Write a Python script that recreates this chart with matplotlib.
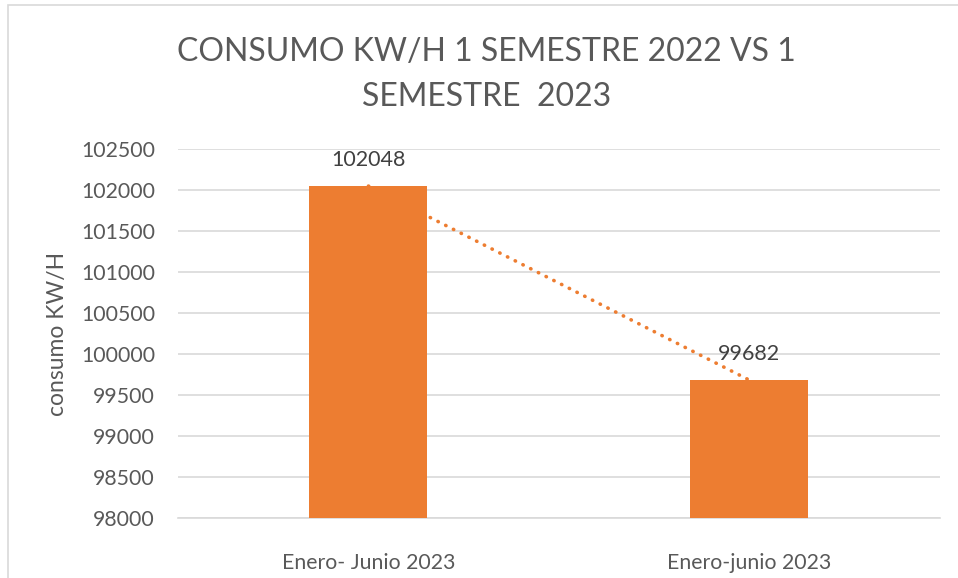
import matplotlib.pyplot as plt
from matplotlib.patches import Rectangle

# --- Data ---
categories = ["Enero- Junio 2023", "Enero-junio 2023"]
consumo = [102048, 99682]
y_ticks = list(range(98000, 102501, 500))

TITLE = "CONSUMO KW/H 1 SEMESTRE 2022 VS 1\nSEMESTRE  2023"
ORANGE = "#ED7D31"
GRAY_TXT = "#595959"
GRID = "#D9D9D9"

plt.rcParams['font.family'] = ['Lato', 'DejaVu Sans']


def main():
    fig = plt.figure(figsize=(9.58, 5.78), dpi=100)
    ax = fig.add_axes([0.1858, 0.1038, 0.981 - 0.1858, 0.7422 - 0.1038])

    x = list(range(len(categories)))

    # linear trend line (drawn behind bars)
    ax.plot(x, consumo, linestyle=(0, (0.1, 2.3)), color=ORANGE, linewidth=2.6,
            dash_capstyle='round', zorder=2)

    ax.bar(x, consumo, width=0.31, color=ORANGE, zorder=3)

    for xi, v in zip(x, consumo):
        ax.annotate(str(v), (xi, v), xytext=(0, 19), textcoords='offset points',
                    ha='center', va='center', fontsize=15.5, color="#404040", zorder=4)

    ax.set_xlim(-0.5, len(categories) - 0.5)
    ax.set_ylim(98000, 102500)
    ax.set_yticks(y_ticks)
    ax.set_yticklabels([str(t) for t in y_ticks])
    ax.set_xticks(x)
    ax.set_xticklabels(categories)

    ax.tick_params(axis='both', length=0, labelsize=15.3, labelcolor=GRAY_TXT)
    ax.tick_params(axis='x', pad=25.5)
    ax.tick_params(axis='y', pad=16.5)

    ax.grid(axis='y', color=GRID, linewidth=1.2, zorder=0)
    ax.set_axisbelow(True)
    for side in ['top', 'right', 'left']:
        ax.spines[side].set_visible(False)
    ax.spines['bottom'].set_color(GRID)
    ax.spines['bottom'].set_linewidth(1.2)

    ax.set_ylabel("consumo KW/H", fontsize=16.5, color=GRAY_TXT, labelpad=9)

    fig.text(0.508, 0.871, TITLE, ha='center', va='center', fontsize=23,
             color=GRAY_TXT, linespacing=1.66)

    # chart area border
    fig.patches.append(Rectangle((8 / 958, -0.1), 1.2, 1.1 - 5 / 578,
                                 transform=fig.transFigure, fill=False,
                                 edgecolor="#D9D9D9", linewidth=1.2))

    fig.savefig("out.png", dpi=100)


if __name__ == "__main__":
    main()
